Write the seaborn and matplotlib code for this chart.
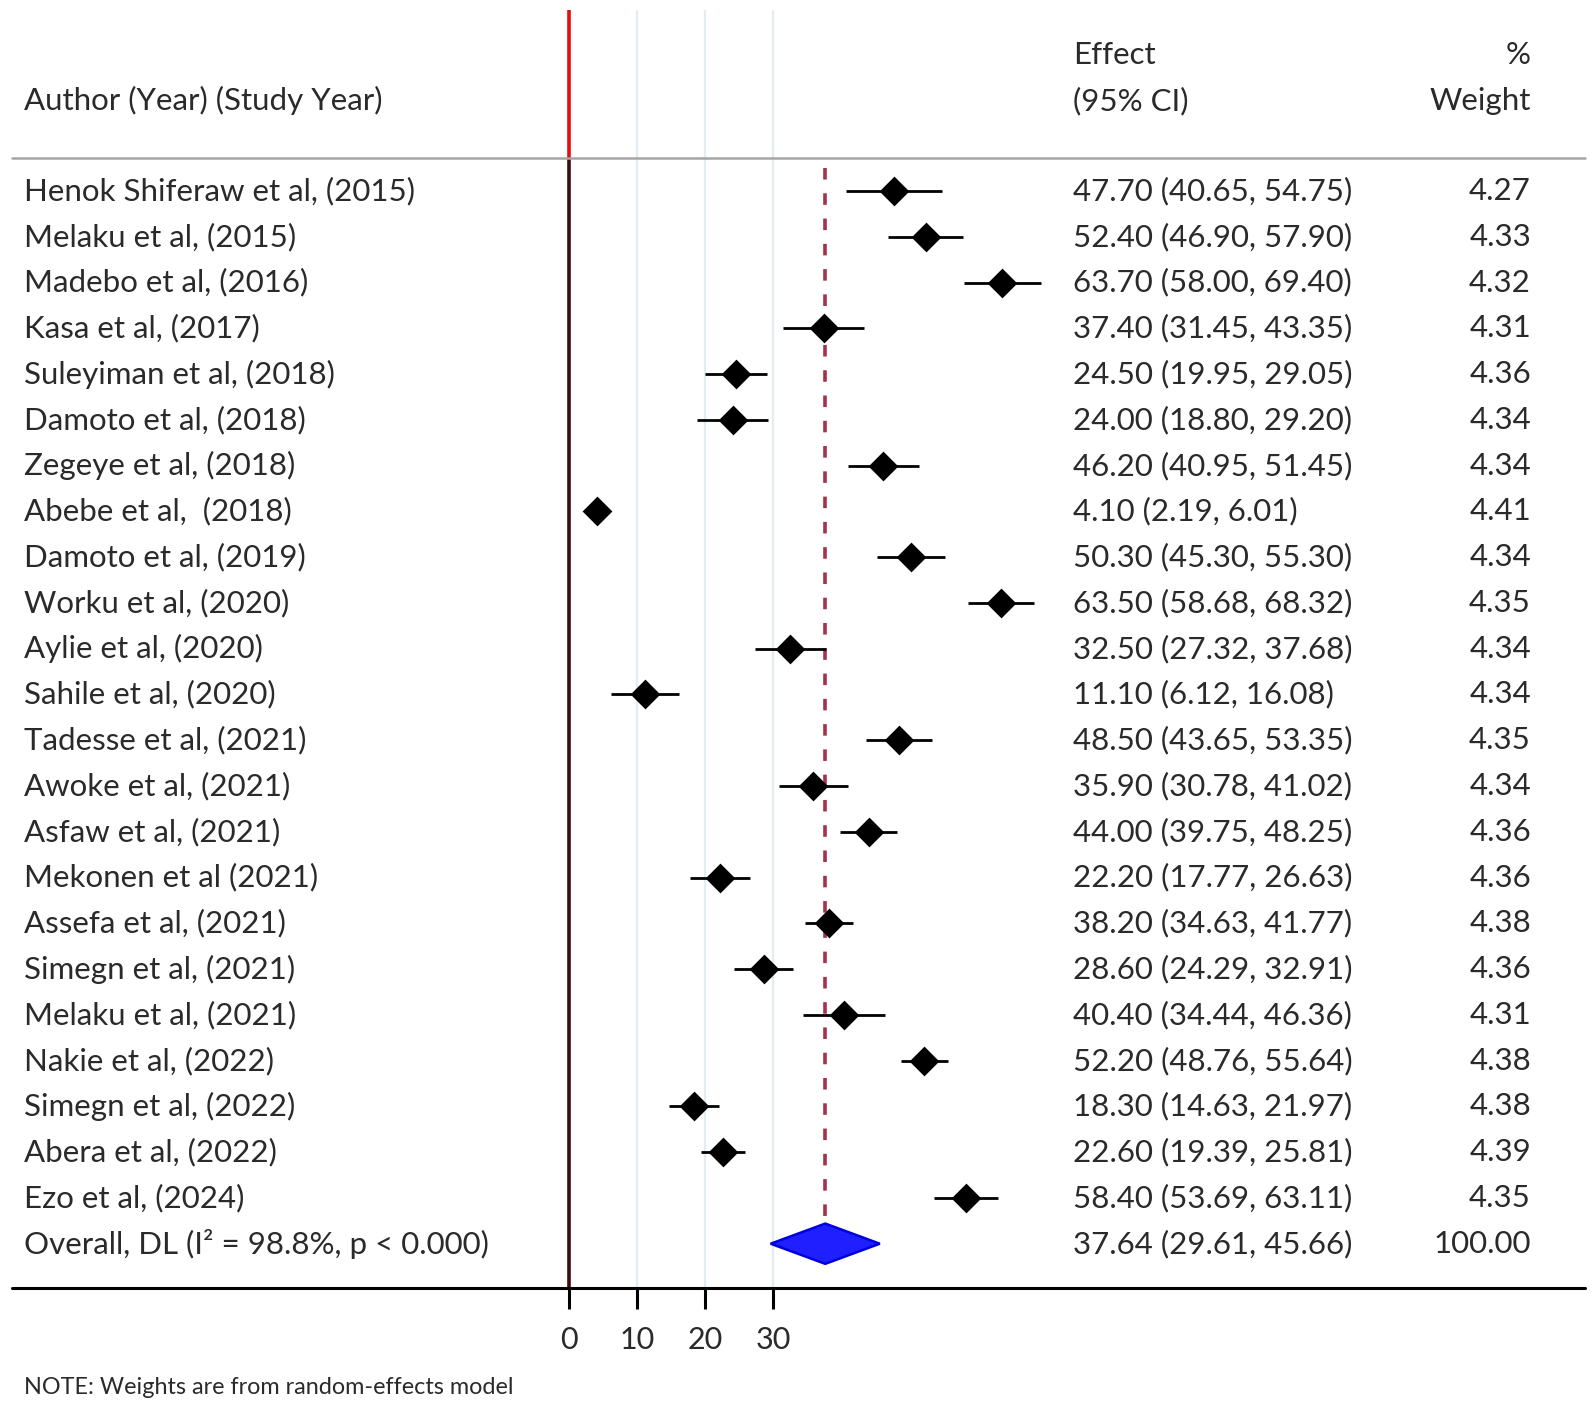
"""
Forest plot: pooled prevalence (random-effects, DL)
"""

import numpy as np
import pandas as pd
import matplotlib
matplotlib.use("Agg")
import matplotlib.pyplot as plt
import matplotlib.transforms as mtransforms
import seaborn as sns

# ---- data ----
studies = [
    "Henok Shiferaw et al, (2015)", "Melaku et al, (2015)", "Madebo et al, (2016)",
    "Kasa et al, (2017)", "Suleyiman et al, (2018)", "Damoto et al, (2018)",
    "Zegeye et al, (2018)", "Abebe et al,  (2018)", "Damoto et al, (2019)",
    "Worku et al, (2020)", "Aylie et al, (2020)", "Sahile et al, (2020)",
    "Tadesse et al, (2021)", "Awoke et al, (2021)", "Asfaw et al, (2021)",
    "Mekonen et al (2021)", "Assefa et al, (2021)", "Simegn et al, (2021)",
    "Melaku et al, (2021)", "Nakie et al, (2022)", "Simegn et al, (2022)",
    "Abera et al, (2022)", "Ezo et al, (2024)",
]
effect = [47.70, 52.40, 63.70, 37.40, 24.50, 24.00, 46.20, 4.10, 50.30, 63.50, 32.50, 11.10,
          48.50, 35.90, 44.00, 22.20, 38.20, 28.60, 40.40, 52.20, 18.30, 22.60, 58.40]
ci_low = [40.65, 46.90, 58.00, 31.45, 19.95, 18.80, 40.95, 2.19, 45.30, 58.68, 27.32, 6.12,
          43.65, 30.78, 39.75, 17.77, 34.63, 24.29, 34.44, 48.76, 14.63, 19.39, 53.69]
ci_high = [54.75, 57.90, 69.40, 43.35, 29.05, 29.20, 51.45, 6.01, 55.30, 68.32, 37.68, 16.08,
           53.35, 41.02, 48.25, 26.63, 41.77, 32.91, 46.36, 55.64, 21.97, 25.81, 63.11]
weights = [4.27, 4.33, 4.32, 4.31, 4.36, 4.34, 4.34, 4.41, 4.34, 4.35, 4.34, 4.34,
           4.35, 4.34, 4.36, 4.36, 4.38, 4.36, 4.31, 4.38, 4.38, 4.39, 4.35]

overall_label = "Overall, DL (I\u00b2 = 98.8%, p < 0.000)"
overall_effect = 37.64
overall_low = 29.61
overall_high = 45.66
overall_weight = 100.00

x_ticks = [0, 10, 20, 30]
grid_x = [10, 20, 30]

df = pd.DataFrame({"study": studies, "effect": effect, "lo": ci_low,
                   "hi": ci_high, "weight": weights})
df["row"] = np.arange(len(df))
overall_row = len(df)

# ---- layout (pixels of the 1595x1410 canvas) ----
W, H = 1595, 1410
X0_PX, PX_PER_UNIT = 569.3, 6.8
ROW0_PX, ROW_PX = 191.0, 45.77


def row_of(py):
    return (py - ROW0_PX) / ROW_PX


sns.set_style("white")
plt.rcParams["font.family"] = ["Lato", "DejaVu Sans"]
FS = 22.5
TXT = "#2a2a2a"

fig = plt.figure(figsize=(W / 100, H / 100), dpi=100)
ax = fig.add_axes([0, 0, 1, 1])
ax.set_xlim(-X0_PX / PX_PER_UNIT, (W - X0_PX) / PX_PER_UNIT)
ax.set_ylim(row_of(H), row_of(0))
ax.axis("off")
bt = mtransforms.blended_transform_factory(ax.transAxes, ax.transData)

y_sep = row_of(158)
y_axis = row_of(1288)
y_top = row_of(10)

# grid lines and reference line
ax.vlines(grid_x, y_top, y_axis, color="#e3ecee", lw=1.6, zorder=0)
ax.vlines(0, y_top, y_sep, color="#e01010", lw=2.6, zorder=2)
ax.vlines(0, y_sep, y_axis, color="#3d0c0c", lw=2.6, zorder=2)

# pooled estimate line
ax.vlines(overall_effect, row_of(168), overall_row - 0.44, color="#a3334a",
          lw=2.6, linestyles=(0, (3.2, 3.8)), zorder=1)

# separators
ax.plot([12 / W, 1585 / W], [y_sep, y_sep], transform=bt, color="#a5a5a5", lw=1.8)
ax.plot([12 / W, 1585 / W], [y_axis, y_axis], transform=bt, color="black", lw=2.2)

# confidence intervals and point estimates
ax.hlines(df["row"], df["lo"], df["hi"], color="black", lw=2.0, zorder=3)
sns.scatterplot(data=df, x="effect", y="row", marker="D", s=230, color="black",
                edgecolor="black", linewidth=0, zorder=4, legend=False, ax=ax)

# overall diamond
ax.fill([overall_low, overall_effect, overall_high, overall_effect],
        [overall_row, overall_row - 0.44, overall_row, overall_row + 0.44],
        facecolor="#1f1fff", edgecolor="#0000dd", lw=1.8, zorder=4)

# headers
ax.text(24 / W, row_of(100.7), "Author (Year) (Study Year)", transform=bt,
        ha="left", va="center", fontsize=FS, color=TXT)
ax.text(1073 / W, row_of(55), "Effect", transform=bt, ha="left", va="center",
        fontsize=FS, color=TXT)
ax.text(1073 / W, row_of(100.7), "(95% CI)", transform=bt, ha="left", va="center",
        fontsize=FS, color=TXT)
ax.text(1531 / W, row_of(55), "%", transform=bt, ha="right", va="center",
        fontsize=FS, color=TXT)
ax.text(1531 / W, row_of(100.7), "Weight", transform=bt, ha="right", va="center",
        fontsize=FS, color=TXT)

# rows of text
for _, r in df.iterrows():
    ax.text(24 / W, r["row"], r["study"], transform=bt, ha="left", va="center",
            fontsize=FS, color=TXT)
    ax.text(1073 / W, r["row"], f"{r['effect']:.2f} ({r['lo']:.2f}, {r['hi']:.2f})",
            transform=bt, ha="left", va="center", fontsize=FS, color=TXT)
    ax.text(1531 / W, r["row"], f"{r['weight']:.2f}", transform=bt, ha="right",
            va="center", fontsize=FS, color=TXT)

ax.text(24 / W, overall_row, overall_label, transform=bt, ha="left", va="center",
        fontsize=FS, color=TXT)
ax.text(1073 / W, overall_row,
        f"{overall_effect:.2f} ({overall_low:.2f}, {overall_high:.2f})",
        transform=bt, ha="left", va="center", fontsize=FS, color=TXT)
ax.text(1531 / W, overall_row, f"{overall_weight:.2f}", transform=bt, ha="right",
        va="center", fontsize=FS, color=TXT)

# x axis ticks
ax.vlines(x_ticks, y_axis, row_of(1309), color="black", lw=2.2)
for t in x_ticks:
    ax.text(t, row_of(1340), f"{t}", ha="center", va="center", fontsize=22,
            color=TXT)

ax.text(24 / W, row_of(1387), "NOTE: Weights are from random-effects model",
        transform=bt, ha="left", va="center", fontsize=16.8, color=TXT)

fig.savefig("out.png", dpi=100)
